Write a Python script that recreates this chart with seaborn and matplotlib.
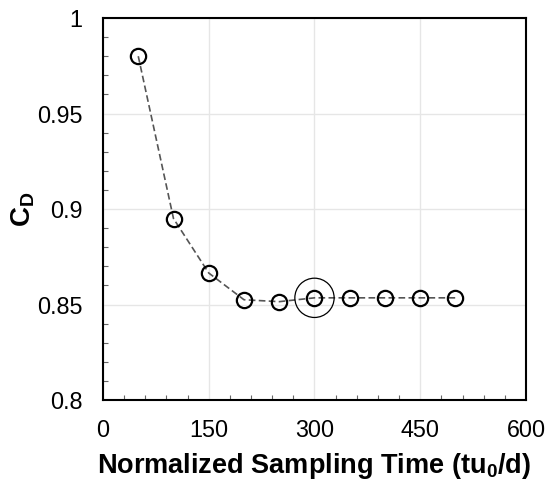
import matplotlib
matplotlib.use("Agg")
import matplotlib.pyplot as plt
import seaborn as sns
import pandas as pd
from matplotlib.ticker import MultipleLocator

sampling_time = [50, 100, 150, 200, 250, 300, 350, 400, 450, 500]
cd_values = [0.98, 0.895, 0.8665, 0.8525, 0.8515, 0.8535, 0.8535, 0.8535, 0.8535, 0.8535]
selected_time = [300]
selected_cd = [0.8535]

sns.set_theme(style="white")
plt.rcParams['font.family'] = ['Liberation Sans', 'DejaVu Sans']
plt.rcParams['mathtext.fontset'] = 'custom'
plt.rcParams['mathtext.rm'] = 'Liberation Sans'
plt.rcParams['mathtext.bf'] = 'Liberation Sans:bold'
plt.rcParams['axes.labelcolor'] = 'black'
plt.rcParams['text.color'] = 'black'

df = pd.DataFrame({"t": sampling_time, "cd": cd_values})
sel = pd.DataFrame({"t": selected_time, "cd": selected_cd})

fig = plt.figure(figsize=(5.55, 4.83), dpi=100)
ax = fig.add_axes([0.1856, 0.1718, 0.7621, 0.7909])

sns.lineplot(data=df, x="t", y="cd", ax=ax, color="#555555", linestyle=(0, (4, 2)),
             linewidth=1.2, marker="o", markersize=11, markerfacecolor="none",
             markeredgecolor="black", markeredgewidth=1.6)
sns.scatterplot(data=sel, x="t", y="cd", ax=ax, s=800, facecolor="none",
                edgecolor="black", linewidth=0.9, zorder=5)

ax.set_xlim(0, 600)
ax.set_ylim(0.8, 1.0)
ax.xaxis.set_major_locator(MultipleLocator(150))
ax.xaxis.set_minor_locator(MultipleLocator(30))
ax.yaxis.set_major_locator(MultipleLocator(0.05))
ax.yaxis.set_minor_locator(MultipleLocator(0.01))
ax.set_yticks([0.8, 0.85, 0.9, 0.95, 1.0])
ax.set_yticklabels(["0.8", "0.85", "0.9", "0.95", "1"])
ax.grid(True, which="major", color="#e6e6e6", linewidth=1.0)
ax.set_axisbelow(True)

for s in ax.spines.values():
    s.set_color("black")
    s.set_linewidth(1.5)

ax.tick_params(which="major", direction="in", length=7, width=1.5, labelsize=16.8,
               colors="black", top=False, right=False)
ax.tick_params(axis="y", which="major", pad=15)
ax.tick_params(axis="x", which="major", pad=14)
ax.tick_params(which="minor", direction="in", length=3.5, width=0.8, colors="#666666",
               bottom=True, left=True, top=False, right=False)

ax.set_xlabel(r"Normalized Sampling Time (tu$_\mathbf{0}$/d)", fontsize=19.5,
              fontweight="bold", labelpad=6)
ax.set_ylabel(r"$\mathbf{C_D}$", fontsize=20, labelpad=0)

fig.savefig("out.png", dpi=100)
